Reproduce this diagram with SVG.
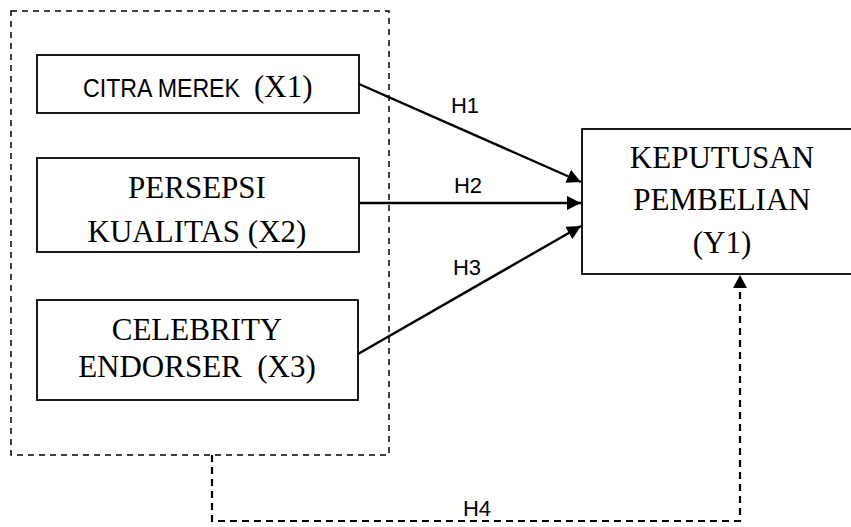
<svg xmlns="http://www.w3.org/2000/svg" width="851" height="527" viewBox="0 0 851 527">
<style>
.box{fill:#fff;stroke:#000;stroke-width:1.8}
.serif{font-family:"Liberation Serif","Times New Roman",serif;font-size:31px;fill:#000;text-anchor:middle}
.sans{font-family:"Liberation Sans",Arial,sans-serif;fill:#000}
.lbl{font-family:"Liberation Sans",Arial,sans-serif;font-size:22px;fill:#000;text-anchor:middle}
.arr{fill:none;stroke:#000;stroke-width:2.4}
.dash{fill:none;stroke:#000;stroke-width:1.5;stroke-dasharray:6 5}
.dash2{fill:none;stroke:#000;stroke-width:2.2;stroke-dasharray:7 5}
</style>
<defs>
<marker id="ah" markerWidth="14" markerHeight="14" refX="14" refY="7" orient="auto" markerUnits="userSpaceOnUse">
<path d="M0,0 L14,7 L0,14 Z" fill="#000"/>
</marker>
</defs>
<rect width="851" height="527" fill="#fff"/>
<g id="group">
<rect class="dash" x="11" y="11" width="378" height="444"/>
</g>
<g id="x1">
<rect class="box" x="37" y="55" width="322" height="58"/>
<text x="83" y="97"><tspan class="sans" font-size="26" textLength="157" lengthAdjust="spacingAndGlyphs">CITRA MEREK</tspan></text>
<text x="254" y="97" font-family="Liberation Serif,serif" font-size="31">(X1)</text>
</g>
<g id="x2">
<rect class="box" x="37" y="158" width="322" height="94"/>
<text class="serif" x="197" y="198">PERSEPSI</text>
<text class="serif" x="197" y="242">KUALITAS (X2)</text>
</g>
<g id="x3">
<rect class="box" x="37" y="300" width="321" height="100"/>
<text class="serif" x="197" y="340">CELEBRITY</text>
<text class="serif" x="197" y="377" xml:space="preserve">ENDORSER  (X3)</text>
</g>
<g id="y1">
<rect class="box" x="582" y="129" width="280" height="145"/>
<text class="serif" x="722" y="168">KEPUTUSAN</text>
<text class="serif" x="722" y="210">PEMBELIAN</text>
<text class="serif" x="722" y="253">(Y1)</text>
</g>
<g id="connectors">
<line class="arr" x1="359" y1="84" x2="581" y2="182" marker-end="url(#ah)"/>
<line class="arr" x1="359" y1="203" x2="581" y2="203" marker-end="url(#ah)"/>
<line class="arr" x1="358" y1="354" x2="581" y2="226" marker-end="url(#ah)"/>
<polyline class="dash2" points="212,455 212,521 740,521 740,287"/>
<path d="M733,288 L740,275 L747,288 Z" fill="#000"/>
</g>
<g id="labels">
<text class="lbl" x="465" y="113">H1</text>
<text class="lbl" x="468" y="193">H2</text>
<text class="lbl" x="467" y="275">H3</text>
<text class="lbl" x="477" y="516">H4</text>
</g>
</svg>
